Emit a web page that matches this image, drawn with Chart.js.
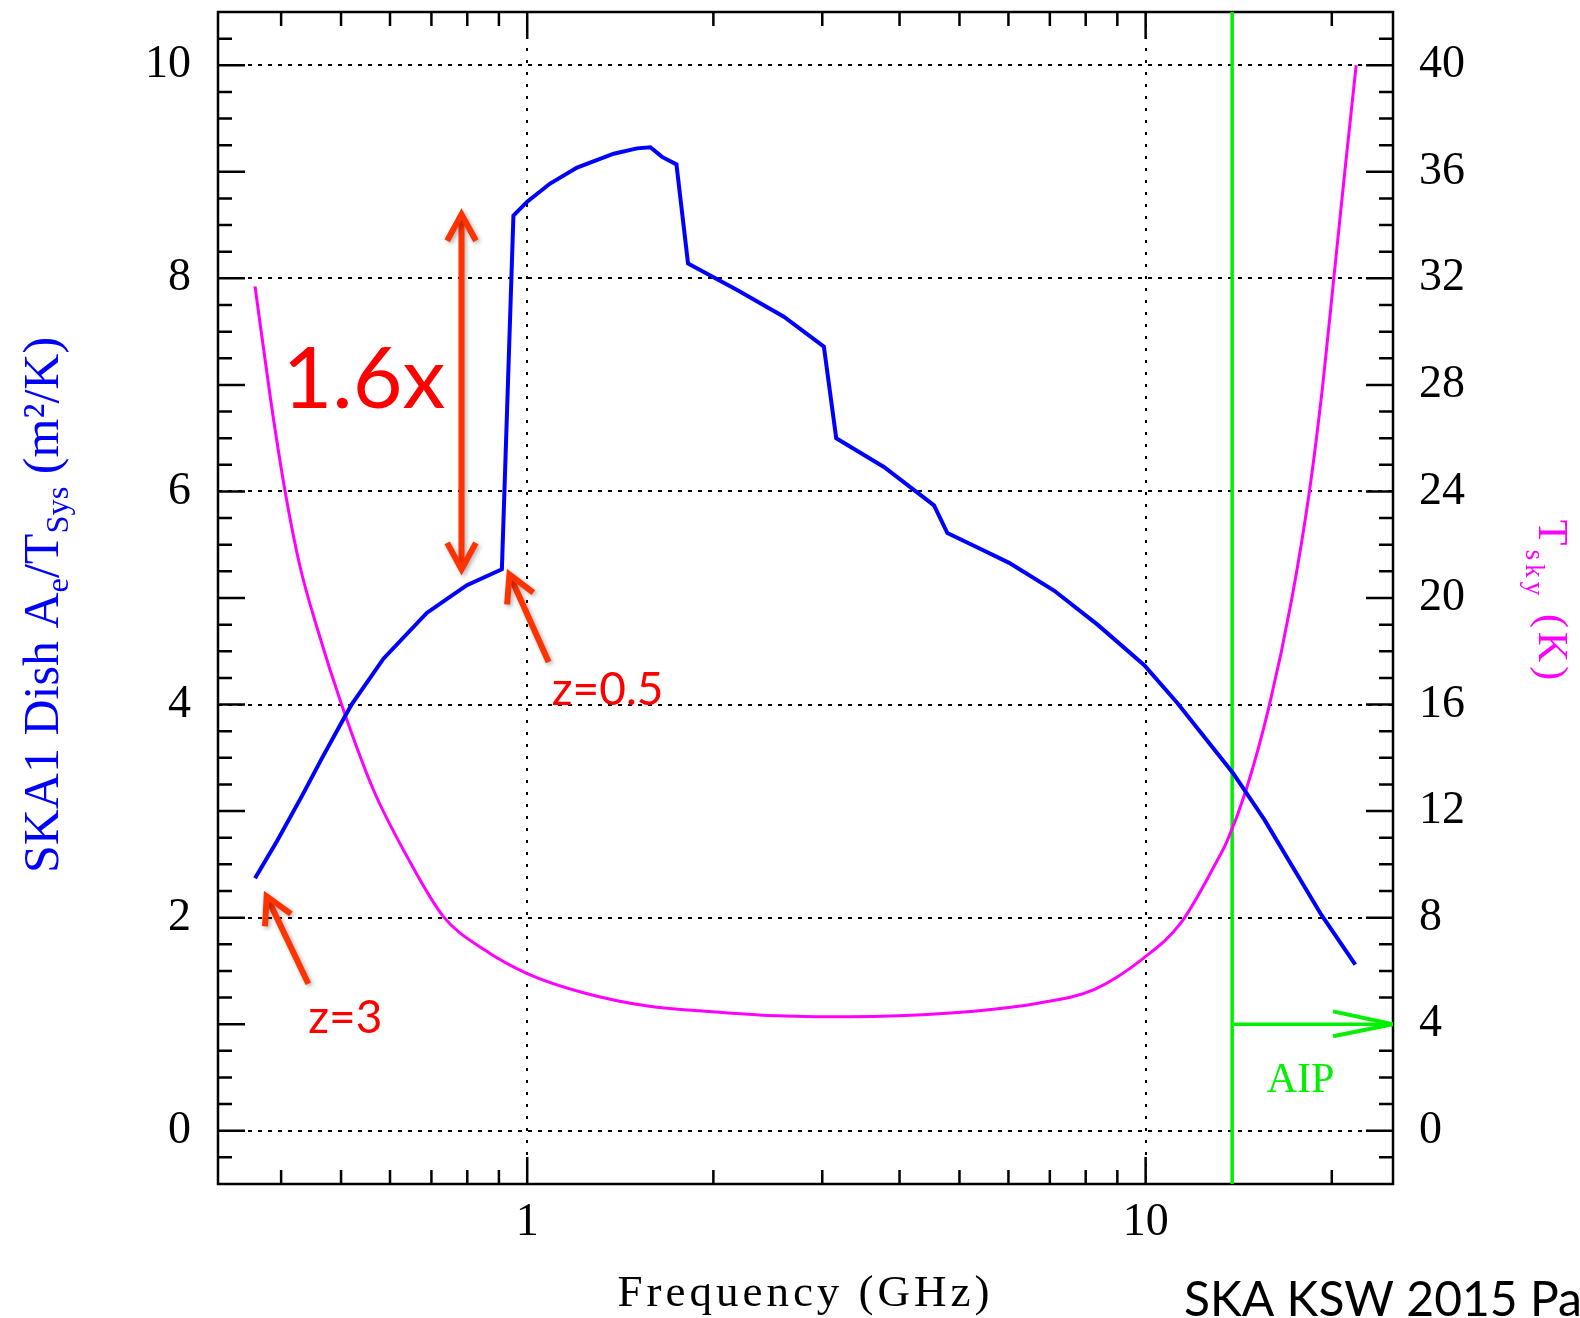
<!DOCTYPE html>
<html lang="en">
<head>
<meta charset="UTF-8">
<title>SKA1 Dish Ae/Tsys</title>
<script src="https://cdn.jsdelivr.net/npm/chart.js"></script>
<style>
  html, body { margin: 0; padding: 0; background: #fff; }
  #wrap { width: 1580px; height: 1318px; position: relative; }
</style>
</head>
<body>
<div id="wrap"><canvas id="skaChart"></canvas></div>
<script>
// SKA1 dish Ae/Tsys (m^2/K) against frequency (GHz)
const aeFreq = [0.363, 0.394, 0.433, 0.466, 0.503, 0.52, 0.5855, 0.688, 0.75, 0.799, 0.91, 0.95, 1.0, 1.089, 1.204, 1.38, 1.505, 1.582, 1.652, 1.743, 1.82, 2.185, 2.6, 3.018, 3.16, 3.774, 4.548, 4.78, 5.41, 6.015, 7.11, 8.36, 9.95, 11.27, 13.83, 15.56, 19.22, 21.83];
const aeTsys = [2.37, 2.72, 3.15, 3.50, 3.85, 4.00, 4.43, 4.86, 5.01, 5.12, 5.27, 8.59, 8.72, 8.89, 9.04, 9.17, 9.22, 9.23, 9.14, 9.07, 8.14, 7.89, 7.64, 7.36, 6.50, 6.23, 5.87, 5.61, 5.46, 5.33, 5.07, 4.75, 4.37, 4.01, 3.36, 2.92, 2.03, 1.56];

// sky temperature (K), right axis
const skyFreq = [0.363, 0.3855, 0.406, 0.429, 0.457, 0.501, 0.564, 0.639, 0.732, 0.85, 1.0, 1.233, 1.566, 1.906, 2.455, 3.31, 4.77, 6.66, 8.27, 9.95, 11.41, 13.08, 13.57, 14.54, 15.86, 17.21, 18.4, 19.34, 20.15, 20.97, 21.9];
const tSky = [31.7, 27.3, 24.0, 21.2, 18.9, 16.0, 12.8, 10.3, 8.04, 6.81, 5.9, 5.18, 4.68, 4.5, 4.33, 4.28, 4.41, 4.78, 5.31, 6.5, 7.81, 10.18, 10.92, 12.8, 16.0, 19.9, 24.0, 28.0, 32.0, 35.9, 40.0];

// AIP marker (green)
const aipFreq = 13.8;
const aipTsky = 4;
const aipHeadFreq = 20.1;
const aipHeadTsky = [4.48, 3.55];

// axes
const xMin = Math.pow(10, -0.5);
const xMax = Math.pow(10, 1.4);
const xMajorTicks = [1, 10];
const xMinorTicks = [0.4, 0.5, 0.6, 0.7, 0.8, 0.9, 2, 3, 4, 5, 6, 7, 8, 9, 20];
const yLeftTicks = [0, 2, 4, 6, 8, 10];
const yRightTicks = [0, 4, 8, 12, 16, 20, 24, 28, 32, 36, 40];

// red annotations
const gainArrow = { freq: 0.783, from: 5.27, to: 8.60 };
const gainText = { label: '1.6x', freq: 0.402, y: 6.78 };
const zMarks = [
  { label: 'z=0.5', tip: [0.936, 5.22], tail: [1.083, 4.40], text: [1.096, 4.0] },
  { label: 'z=3', tip: [0.379, 2.20], tail: [0.4426, 1.38], text: [0.4426, 0.92] }
];

const SERIF = 'Liberation Serif';

function pts(xs, ys) {
  return xs.map((x, i) => ({ x: x, y: ys[i] }));
}

function drawParts(ctx, parts, x, y, angle, size, color, spacing, subOff) {
  ctx.save();
  ctx.translate(x, y);
  ctx.rotate(angle);
  ctx.fillStyle = color;
  ctx.textBaseline = 'alphabetic';
  ctx.textAlign = 'left';
  ctx.letterSpacing = spacing + 'px';
  let total = 0;
  const widths = parts.map(p => {
    ctx.font = (p.sub ? size * 0.65 : size) + 'px "' + SERIF + '"';
    const w = ctx.measureText(p.t).width;
    total += w;
    return w;
  });
  let cx = -total / 2;
  parts.forEach((p, i) => {
    ctx.font = (p.sub ? size * 0.65 : size) + 'px "' + SERIF + '"';
    ctx.fillText(p.t, cx, p.sub ? size * subOff : 0);
    cx += widths[i];
  });
  ctx.restore();
}

function drawArrow(ctx, x1, y1, x2, y2, both) {
  const head = (tx, ty, fx, fy) => {
    const ang = Math.atan2(ty - fy, tx - fx);
    const len = 30, spread = 0.5;
    ctx.beginPath();
    ctx.moveTo(tx - len * Math.cos(ang - spread), ty - len * Math.sin(ang - spread));
    ctx.lineTo(tx, ty);
    ctx.lineTo(tx - len * Math.cos(ang + spread), ty - len * Math.sin(ang + spread));
    ctx.stroke();
  };
  const ang = Math.atan2(y2 - y1, x2 - x1);
  const s = 4;
  ctx.beginPath();
  ctx.moveTo(both ? x1 + s * Math.cos(ang) : x1, both ? y1 + s * Math.sin(ang) : y1);
  ctx.lineTo(x2 - s * Math.cos(ang), y2 - s * Math.sin(ang));
  ctx.stroke();
  head(x2, y2, x1, y1);
  if (both) head(x1, y1, x2, y2);
}

// inward tick marks and frame, PGPLOT style
const frameTicks = {
  id: 'frameTicks',
  beforeDatasetsDraw(chart) {
    const { ctx, chartArea: a, scales } = chart;
    ctx.save();
    ctx.strokeStyle = '#000';
    ctx.lineWidth = 2.5;
    ctx.beginPath();
    xMinorTicks.concat(xMajorTicks).forEach(v => {
      const len = xMajorTicks.includes(v) ? 27 : 14;
      const px = scales.x.getPixelForValue(v);
      ctx.moveTo(px, a.bottom); ctx.lineTo(px, a.bottom - len);
      ctx.moveTo(px, a.top); ctx.lineTo(px, a.top + len);
    });
    for (let k = -1; k <= 41; k++) {
      const len = k % 4 === 0 ? 27 : 14;
      const py = scales.y.getPixelForValue(k / 4);
      ctx.moveTo(a.left, py); ctx.lineTo(a.left + len, py);
      ctx.moveTo(a.right, py); ctx.lineTo(a.right - len, py);
    }
    ctx.stroke();
    ctx.strokeRect(a.left, a.top, a.right - a.left, a.bottom - a.top);
    ctx.restore();
  }
};

const annotations = {
  id: 'annotations',
  afterDatasetsDraw(chart) {
    const { ctx, scales } = chart;
    const X = v => scales.x.getPixelForValue(v);
    const Y = v => scales.y.getPixelForValue(v);
    ctx.save();
    ctx.shadowColor = 'rgba(0,0,0,0.3)';
    ctx.shadowBlur = 4;
    ctx.shadowOffsetX = 2;
    ctx.shadowOffsetY = 2;
    ctx.strokeStyle = '#ff3300';
    ctx.lineWidth = 6;
    ctx.lineJoin = 'miter';
    drawArrow(ctx, X(gainArrow.freq), Y(gainArrow.from), X(gainArrow.freq), Y(gainArrow.to), true);
    zMarks.forEach(m => {
      drawArrow(ctx, X(m.tail[0]), Y(m.tail[1]), X(m.tip[0]), Y(m.tip[1]), false);
    });
    ctx.restore();

    ctx.save();
    ctx.fillStyle = '#ff0000';
    ctx.textBaseline = 'alphabetic';
    ctx.textAlign = 'left';
    ctx.font = '86px Lato';
    ctx.fillText(gainText.label, X(gainText.freq), Y(gainText.y));
    ctx.font = '46px Lato';
    zMarks.forEach(m => ctx.fillText(m.label, X(m.text[0]), Y(m.text[1])));

    // AIP label
    ctx.fillStyle = '#00f000';
    ctx.textAlign = 'center';
    ctx.font = '42px "' + SERIF + '"';
    ctx.fillText('AIP', X(17.8), Y(0.36));
    ctx.restore();
  }
};

const titles = {
  id: 'titles',
  afterDraw(chart) {
    const { ctx, chartArea: a } = chart;
    drawParts(ctx, [{ t: 'SKA1 Dish A' }, { t: 'e', sub: true }, { t: '/T' }, { t: 'Sys', sub: true }, { t: ' (m\u00b2/K)' }],
      58, 605, -Math.PI / 2, 50, '#0000ff', 0, 0.2);
    drawParts(ctx, [{ t: 'T' }, { t: 'sky', sub: true }, { t: ' (K)' }],
      1539, 602, Math.PI / 2, 42, '#ff00ff', 4, 0.3);
    drawParts(ctx, [{ t: 'Frequency (GHz)' }], (a.left + a.right) / 2, 1306, 0, 45, '#000', 4, 0);

    ctx.save();
    ctx.fillStyle = '#000';
    ctx.font = '48px Lato';
    ctx.textBaseline = 'alphabetic';
    ctx.textAlign = 'left';
    ctx.fillText('SKA KSW 2015 Pa', 1184, 1316);
    ctx.restore();
  }
};

const noPad = s => { s.paddingTop = 0; s.paddingBottom = 0; s.paddingLeft = 0; s.paddingRight = 0; };
const tickFont = { family: SERIF, size: 46 };

new Chart(document.getElementById('skaChart'), {
  type: 'line',
  data: {
    datasets: [
      {
        label: 'Ae/Tsys',
        data: pts(aeFreq, aeTsys),
        yAxisID: 'y',
        borderColor: '#0000ff',
        borderWidth: 4,
        pointRadius: 0,
        tension: 0
      },
      {
        label: 'Tsky',
        data: pts(skyFreq, tSky),
        yAxisID: 'y2',
        borderColor: '#ff00ff',
        borderWidth: 3,
        pointRadius: 0,
        cubicInterpolationMode: 'monotone'
      },
      {
        label: 'AIP edge',
        data: [{ x: aipFreq, y: -0.5 }, { x: aipFreq, y: 10.5 }],
        yAxisID: 'y',
        borderColor: '#00f000',
        borderWidth: 3.5,
        pointRadius: 0
      },
      {
        label: 'AIP arrow',
        data: [{ x: aipFreq, y: aipTsky }, { x: xMax, y: aipTsky }],
        yAxisID: 'y2',
        borderColor: '#00f000',
        borderWidth: 3.5,
        pointRadius: 0
      },
      {
        label: 'AIP head',
        data: [{ x: aipHeadFreq, y: aipHeadTsky[0] }, { x: xMax, y: aipTsky }, { x: aipHeadFreq, y: aipHeadTsky[1] }],
        yAxisID: 'y2',
        borderColor: '#00f000',
        borderWidth: 4,
        pointRadius: 0
      }
    ]
  },
  options: {
    responsive: true,
    maintainAspectRatio: false,
    animation: false,
    layout: { padding: { top: 12, left: 0, right: 0, bottom: 0 } },
    plugins: {
      legend: { display: false },
      tooltip: { enabled: false }
    },
    scales: {
      x: {
        type: 'logarithmic',
        position: 'bottom',
        bounds: 'data',
        min: xMin,
        max: xMax,
        afterBuildTicks: s => {
          s.ticks = xMajorTicks.map(v => ({ value: v, major: true }));
          s.min = xMin;
          s.max = xMax;
        },
        afterFit: s => { s.height = 134; noPad(s); },
        ticks: {
          callback: v => String(v),
          font: tickFont,
          color: '#000',
          padding: 11,
          autoSkip: false,
          maxRotation: 0
        },
        grid: { color: '#000', lineWidth: 2, drawTicks: false },
        border: { display: false, dash: [3, 9] }
      },
      y: {
        type: 'linear',
        position: 'left',
        min: -0.5,
        max: 10.5,
        afterBuildTicks: s => { s.ticks = yLeftTicks.map(v => ({ value: v })); },
        afterFit: s => { s.width = 218; noPad(s); },
        ticks: { font: tickFont, color: '#000', padding: 27 },
        grid: { color: '#000', lineWidth: 2, drawTicks: false },
        border: { display: false, dash: [4, 6] }
      },
      y2: {
        type: 'linear',
        position: 'right',
        min: -2,
        max: 42,
        afterBuildTicks: s => { s.ticks = yRightTicks.map(v => ({ value: v })); },
        afterFit: s => { s.width = 187; noPad(s); },
        ticks: { font: tickFont, color: '#000', padding: 26 },
        grid: { display: false, drawTicks: false },
        border: { display: false }
      }
    }
  },
  plugins: [frameTicks, annotations, titles]
});
</script>
</body>
</html>
